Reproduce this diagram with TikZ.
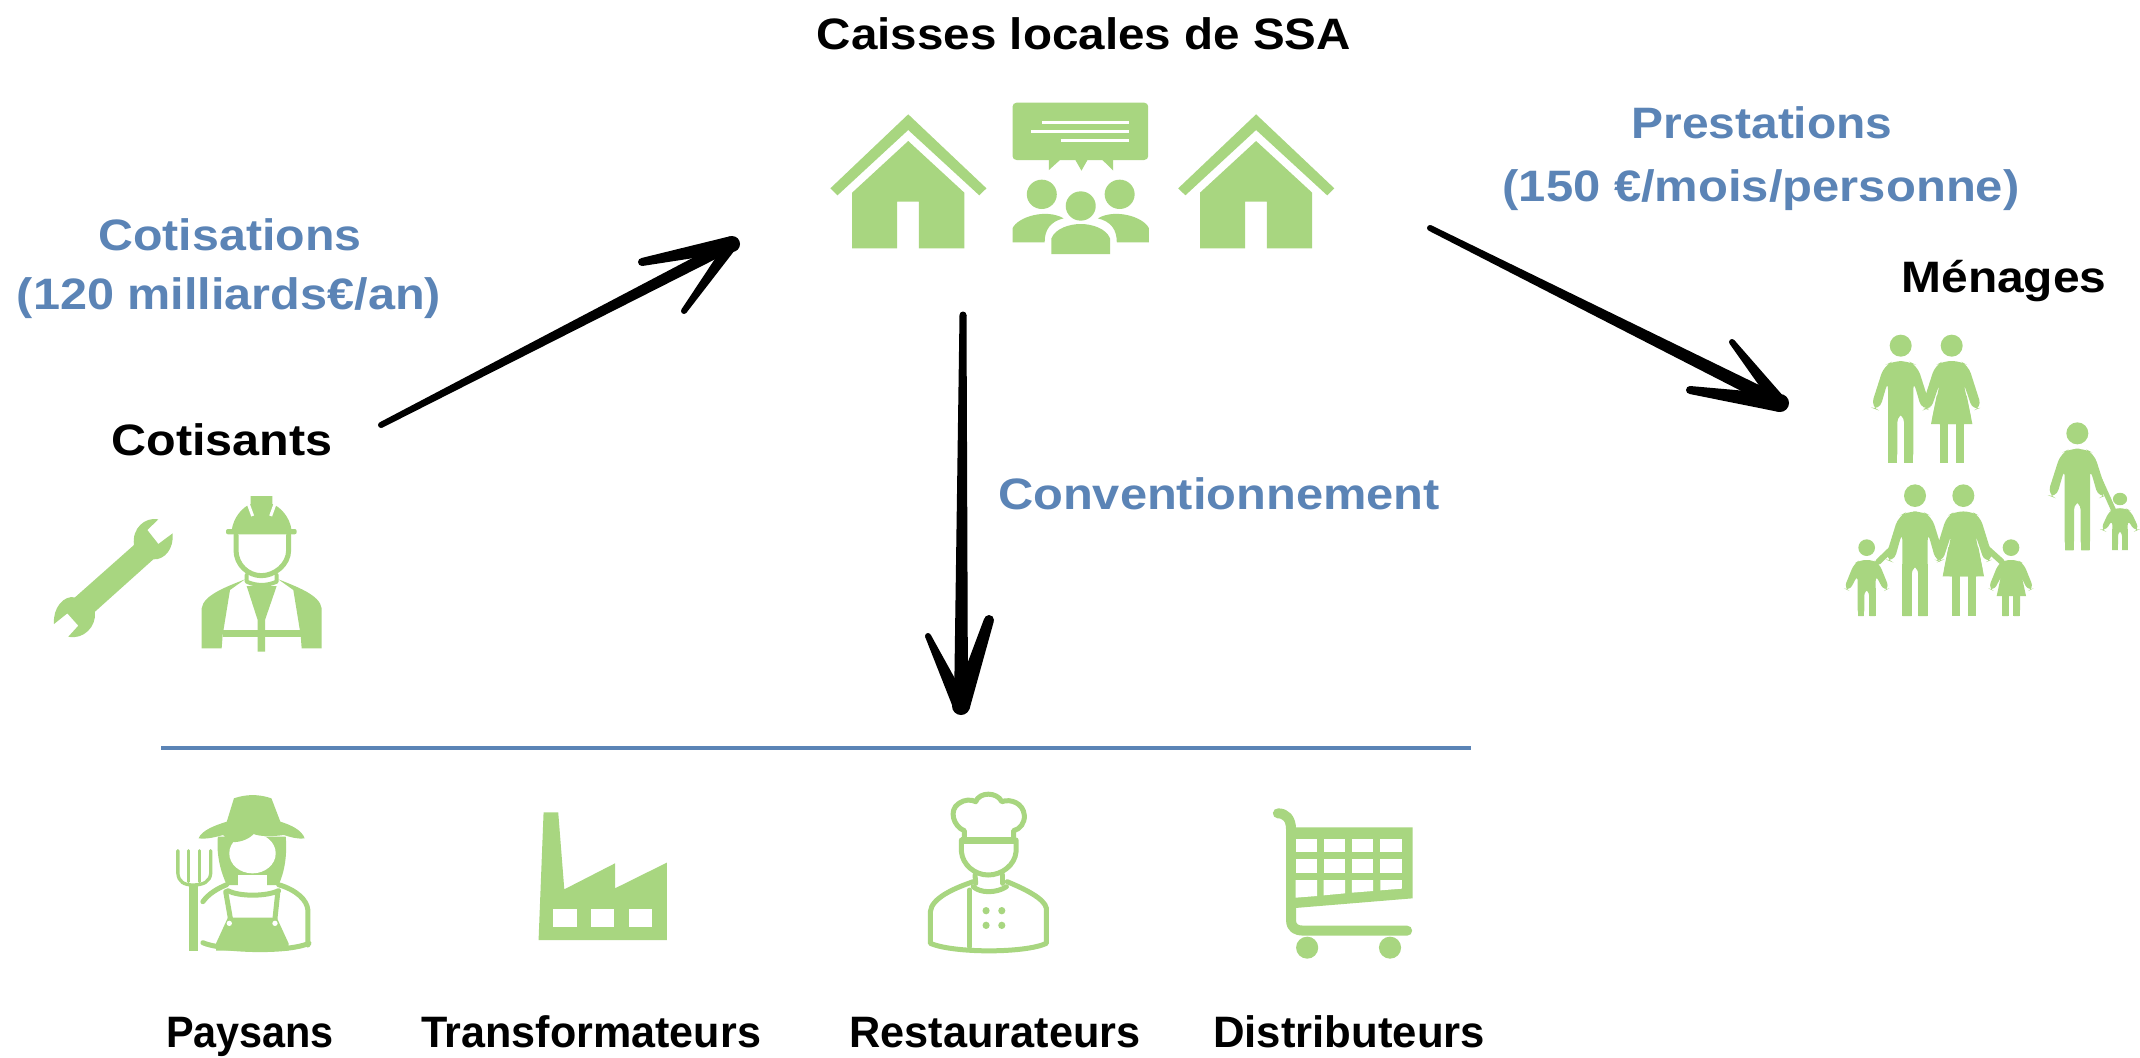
\documentclass[tikz,border=0pt]{standalone}
\usepackage{fontspec}
\usepackage{graphicx}
\setmainfont{Liberation Sans}
\usetikzlibrary{calc}
\definecolor{iconG}{RGB}{168,214,128}
\definecolor{blueT}{RGB}{91,132,182}
\tikzset{
  zoomed/.style={x=0.33333pt,y=-0.33333pt},
  zoomedB/.style={x=0.35714pt,y=-0.33333pt},
  lblK/.style={inner sep=0pt,anchor=base,text=black,font=\bfseries\fontsize{44}{50}\selectfont},
  lblB/.style={inner sep=0pt,anchor=base,text=blueT,font=\bfseries\fontsize{44}{50}\selectfont},
  connector/.style={draw=black,line width=4pt,line cap=round},
  ink/.style={fill=iconG,draw=none},
  st/.style={draw=iconG,line width=#1,line cap=round,line join=round,fill=none},
  st/.default=5pt,
  wh/.style={fill=white,draw=none},
}
\newcommand\fitw[2]{\resizebox{#1pt}{\height}{#2}}
\newcommand\taperseg[4]{%
  \fill[black] ($(#1)!#3!90:(#2)$) -- ($(#2)!#4!-90:(#1)$) -- ($(#2)!#4!90:(#1)$) -- ($(#1)!#3!-90:(#2)$) -- cycle;
  \fill[black] (#1) circle (#3);
  \fill[black] (#2) circle (#4);}
\newcommand\houseicon[1]{%
  \begin{scope}[shift={(#1,80)},zoomedB]
    \fill[ink] (146,505) -- (146,338) -- (303,183) -- (460,338) -- (460,505) -- (333,505) -- (333,365) -- (272,365) -- (272,505) -- cycle;
    \fill[ink] (85,325) -- (303,103) -- (522,325) -- (502,346) -- (303,150) -- (105,346) -- cycle;
  \end{scope}}
\newcommand\manfig[1]{%
  \begin{scope}[#1]
    \fill[ink] (0,0) circle (33);
    \fill[ink,rounded corners=9pt] (-22,46) -- (-50,60) -- (-90,185) -- (-64,195) -- (-38,105) -- (-38,351) -- (-10,351) -- (-10,203) -- (10,203) -- (10,351) -- (38,351) -- (38,105) -- (64,195) -- (90,185) -- (50,60) -- (22,46) -- cycle;
    \fill[ink] (-38,200) rectangle (-10,351); \fill[ink] (10,200) rectangle (38,351);
  \end{scope}}
\newcommand\womanfig[1]{%
  \begin{scope}[#1]
    \fill[ink] (0,0) circle (33);
    \fill[ink,rounded corners=8pt] (-25,46) -- (-50,60) -- (-90,185) -- (-64,195) -- (-35,110) -- (-62,235) -- (62,235) -- (35,110) -- (64,195) -- (90,185) -- (50,60) -- (25,46) -- cycle;
    \fill[ink] (-62,235) -- (-45,150) -- (45,150) -- (62,235) -- cycle;
    \fill[ink] (-35,232) rectangle (-10,351); \fill[ink] (13,232) rectangle (38,351);
  \end{scope}}
\newcommand\childfig[1]{%
  \begin{scope}[#1]
    \fill[ink] (0,0) circle (25);
    \fill[ink,rounded corners=6pt] (-20,37) -- (-38,48) -- (-68,122) -- (-52,130) -- (-27,82) -- (-27,205) -- (-7,205) -- (-7,125) -- (7,125) -- (7,205) -- (27,205) -- (27,82) -- (52,130) -- (68,122) -- (38,48) -- (20,37) -- cycle;
    \fill[ink] (-27,120) rectangle (-7,205); \fill[ink] (7,120) rectangle (27,205);
  \end{scope}}
\begin{document}
\begin{tikzpicture}[x=1pt,y=-1pt]
\useasboundingbox (0,0) rectangle (2140,1057);
\fill[white] (0,0) rectangle (2140,1057);

% ---------- labels
\node[lblK] (caisses) at (1084,49) {\fitw{534}{Caisses locales de SSA}};
\node[lblB] (prestA) at (1762,138) {\fitw{261}{Prestations}};
\node[lblB] (prestB) at (1761,201) {\fitw{517}{(150 €/mois/personne)}};
\node[lblB] (cotisA) at (230,250) {\fitw{263}{Cotisations}};
\node[lblB] (cotisB) at (229,309) {\fitw{424}{(120 milliards€/an)}};
\node[lblK] (cotisants) at (222,455) {\fitw{221}{Cotisants}};
\node[lblK] (menages) at (2004,292) {\fitw{205}{Ménages}};
\node[lblB] (conv) at (1219,509) {\fitw{442}{Conventionnement}};
\node[lblK] (pays) at (250,1047) {\fitw{168}{Paysans}};
\node[lblK] (transf) at (591,1047) {\fitw{340}{Transformateurs}};
\node[lblK] (resto) at (995,1047) {\fitw{291}{Restaurateurs}};
\node[lblK] (distr) at (1349,1047) {\fitw{272}{Distributeurs}};

% ---------- blue rule
\coordinate (ruleL) at (161,748);
\coordinate (ruleR) at (1471,748);
\draw[draw=blueT,line width=4pt] (ruleL) -- (ruleR);

% ---------- arrows
\coordinate (aS) at (381,425);
\coordinate (aT) at (732,244);
\coordinate (aB) at (642,262);
\coordinate (aC) at (684,311);
\draw[connector] (aS) -- (aT);
\taperseg{aS}{aT}{3pt}{6pt}
\taperseg{aB}{aT}{4pt}{8pt}
\taperseg{aC}{aT}{3pt}{6pt}

\coordinate (bS) at (1430,228);
\coordinate (bT) at (1780,403);
\coordinate (bB) at (1690,390);
\coordinate (bC) at (1732,342);
\draw[connector] (bS) -- (bT);
\taperseg{bS}{bT}{3pt}{7pt}
\taperseg{bB}{bT}{4pt}{9pt}
\taperseg{bC}{bT}{3pt}{7pt}

\coordinate (cS) at (963,315);
\coordinate (cT) at (961,706);
\coordinate (cB) at (928,636);
\coordinate (cC) at (989,620);
\draw[connector] (cS) -- (cT);
\taperseg{cS}{cT}{3.5pt}{7pt}
\taperseg{cB}{cT}{3pt}{8pt}
\taperseg{cC}{cT}{5pt}{9pt}

% ---------- houses
\houseicon{800}
\houseicon{1147.86}

% ---------- meeting icon
\begin{scope}[shift={(800,80)},zoomedB]
  \fill[ink,rounded corners=4pt] (595,68) rectangle (975,240);
  \fill[ink] (697,238) -- (697,270) -- (730,238) -- cycle;
  \fill[ink] (770,238) -- (788,272) -- (806,238) -- cycle;
  \fill[ink] (845,238) -- (877,272) -- (877,238) -- cycle;
  \draw[draw=white,line width=3pt] (678,127) -- (922,127) (648,155) -- (922,155) (730,182) -- (922,182);
  \fill[ink] (677,343) ellipse (42 and 44);
  \fill[ink] (895,343) ellipse (42 and 44);
  \fill[ink] (786,378) ellipse (42 and 44);
  \fill[ink] (595,487) -- (595,445) .. controls (610,410) and (690,385) .. (738,415) .. controls (700,425) and (685,450) .. (685,487) -- cycle;
  \fill[ink] (977,487) -- (977,445) .. controls (962,410) and (882,385) .. (834,415) .. controls (872,425) and (887,450) .. (887,487) -- cycle;
  \fill[ink] (704,522) -- (704,475) .. controls (715,445) and (755,432) .. (786,432) .. controls (817,432) and (857,445) .. (868,475) -- (868,522) -- cycle;
\end{scope}

% ---------- wrench and worker
\begin{scope}[shift={(30,480)},zoomed]
  \fill[ink] (385,118) .. controls (345,110) and (305,145) .. (312,195) -- (135,352) .. controls (100,345) and (68,385) .. (72,432) -- (112,400) -- (145,437) -- (115,470) .. controls (160,480) and (200,440) .. (195,395) -- (370,238) .. controls (405,240) and (432,205) .. (428,160) -- (385,192) -- (352,150) -- cycle;
  % helmet
  \fill[ink] (605,152) .. controls (610,110) and (640,80) .. (662,72) -- (662,48) -- (727,48) -- (727,72) .. controls (750,80) and (780,110) .. (785,152) -- cycle;
  \fill[ink,rounded corners=2pt] (588,147) rectangle (800,163);
  \draw[draw=white,line width=3pt] (655,72) -- (668,108) (735,72) -- (722,108);
  % face
  \draw[st=5pt] (618,165) -- (618,210) .. controls (618,255) and (655,287) .. (694,287) .. controls (733,287) and (776,255) .. (776,210) -- (776,165);
  \draw[st=4pt] (650,285) -- (650,305) .. controls (680,318) and (710,318) .. (740,305) -- (740,285);
  % body
  \fill[ink] (515,505) -- (515,385) .. controls (520,345) and (590,320) .. (645,298) -- (600,330) -- (578,465) -- (575,505) -- cycle;
  \fill[ink] (875,505) -- (875,385) .. controls (870,345) and (800,320) .. (745,298) -- (790,330) -- (812,465) -- (815,505) -- cycle;
  \fill[ink] (650,318) -- (740,318) -- (705,420) -- (705,515) -- (683,515) -- (683,420) -- cycle;
  \fill[ink] (578,449) rectangle (812,470);
\end{scope}

% ---------- families
\begin{scope}[shift={(1820,320)},zoomed]
  \manfig{shift={(242,77)}}
  \womanfig{shift={(395,77)}}
  \manfig{shift={(772,340)}}
  \draw[st=5pt] (840,480) -- (885,580);
  \childfig{shift={(900,537)},scale=0.85,yscale=0.88}
  \manfig{shift={(285,527)},yscale=1.03}
  \womanfig{shift={(430,527)},yscale=1.03}
  \draw[st=6pt] (222,680) -- (175,725);
  \draw[st=6pt] (495,680) -- (545,725);
  \childfig{shift={(140,683)}}
  \childfig{shift={(573,683)}}
  \fill[ink] (550,735) -- (598,735) -- (618,828) -- (530,828) -- cycle;
\end{scope}

% ---------- farmer and factory
\begin{scope}[shift={(150,780)},zoomedB]
  \fill[ink] (190,170) .. controls (185,230) and (200,280) .. (215,315) -- (360,315) .. controls (375,280) and (385,230) .. (380,170) -- cycle;
  \fill[wh] (287,220) ellipse (65 and 60);
  \fill[wh] (245,285) rectangle (328,322);
  \fill[ink] (215,125) -- (235,55) .. controls (270,42) and (305,42) .. (340,55) -- (365,125) .. controls (395,135) and (425,150) .. (433,175) .. controls (410,178) and (390,170) .. (375,165) .. controls (340,170) and (310,170) .. (290,162) .. controls (275,180) and (245,190) .. (222,185) -- (205,165) .. controls (180,172) and (160,178) .. (136,175) .. controls (145,150) and (185,135) .. (215,125) -- cycle;
  \draw[st=5pt] (148,365) .. controls (165,340) and (190,325) .. (215,314);
  \draw[st=5pt] (218,332) .. controls (250,350) and (325,350) .. (360,332);
  \draw[st=5pt] (360,314) .. controls (410,330) and (440,360) .. (442,390) -- (442,495);
  \draw[st=5pt] (212,335) -- (225,415);
  \draw[st=5pt] (358,335) -- (350,415);
  \draw[st=5pt] (148,488) .. controls (190,510) and (380,520) .. (445,490);
  \fill[ink] (218,413) -- (355,413) -- (388,490) -- (388,512) -- (185,512) -- (185,490) -- cycle;
  \fill[wh] (222,430) ellipse (7.5 and 8);
  \fill[wh] (350,430) ellipse (7.5 and 8);
  \fill[ink] (110,318) rectangle (133,512);
  \draw[st=3.3pt] (78,212) -- (78,280) .. controls (80,305) and (95,315) .. (120,315) .. controls (150,315) and (168,305) .. (170,280) -- (170,212);
  \draw[st=3.3pt] (108,212) -- (108,305);
  \draw[st=3.3pt] (138,212) -- (138,305);
  % factory
  \fill[ink] (1088,480) -- (1102,97) -- (1143,97) -- (1160,328) -- (1302,250) -- (1302,325) -- (1447,248) -- (1447,480) -- cycle;
  \fill[wh] (1128,388) rectangle (1195,440);
  \fill[wh] (1235,388) rectangle (1300,440);
  \fill[wh] (1340,388) rectangle (1405,440);
\end{scope}

% ---------- chef and cart
\begin{scope}[shift={(900,780)},zoomedB]
  \draw[st=5pt] (180,175) -- (180,152) .. controls (150,140) and (135,90) .. (165,70) .. controls (180,58) and (200,58) .. (212,65) .. controls (222,35) and (272,35) .. (285,65) .. controls (310,55) and (345,70) .. (348,105) .. controls (350,130) and (335,148) .. (318,152) -- (318,175);
  \draw[st=7pt,line cap=butt] (170,182) -- (325,182);
  \draw[st=5pt] (172,180) -- (172,215) .. controls (175,255) and (210,285) .. (247,285) .. controls (285,285) and (322,255) .. (325,215) -- (325,180);
  \draw[st=5pt] (210,285) -- (212,310);
  \draw[st=5pt] (288,285) -- (288,310);
  \draw[st=5pt] (205,320) .. controls (225,340) and (270,340) .. (298,320);
  \draw[st=5pt] (205,305) .. controls (150,325) and (88,355) .. (85,395) -- (85,490) .. controls (150,520) and (350,520) .. (410,490) -- (410,385) .. controls (405,355) and (345,325) .. (300,305);
  \draw[st=5pt] (195,330) -- (195,500);
  \fill[ink] (241,392) ellipse (10 and 11); \fill[ink] (285,392) ellipse (10 and 11);
  \fill[ink] (241,436) ellipse (10 and 11); \fill[ink] (285,436) ellipse (10 and 11);
  % cart
  \draw[st=10pt] (1058,100) .. controls (1080,100) and (1095,115) .. (1095,150) -- (1095,420) .. controls (1095,445) and (1110,452) .. (1130,452) -- (1420,452);
  \fill[ink] (1095,142) -- (1435,142) -- (1435,355) -- (1095,385) -- cycle;
  \foreach \cx/\cy in {1108/1168,1186/1246,1265/1325,1345/1405}{
    \fill[wh] (\cx,177) rectangle (\cy,215);
    \fill[wh] (\cx,237) rectangle (\cy,278);
  }
  \fill[wh] (1108,300) -- (1168,300) -- (1168,348) -- (1108,353) -- cycle;
  \fill[wh] (1186,300) -- (1246,300) -- (1246,340) -- (1186,346) -- cycle;
  \fill[wh] (1265,300) -- (1325,300) -- (1325,333) -- (1265,338) -- cycle;
  \fill[wh] (1345,300) -- (1405,300) -- (1405,326) -- (1345,331) -- cycle;
  \fill[ink] (1140,503) ellipse (31 and 33);
  \fill[ink] (1372,503) ellipse (31 and 33);
\end{scope}
\end{tikzpicture}
\end{document}
